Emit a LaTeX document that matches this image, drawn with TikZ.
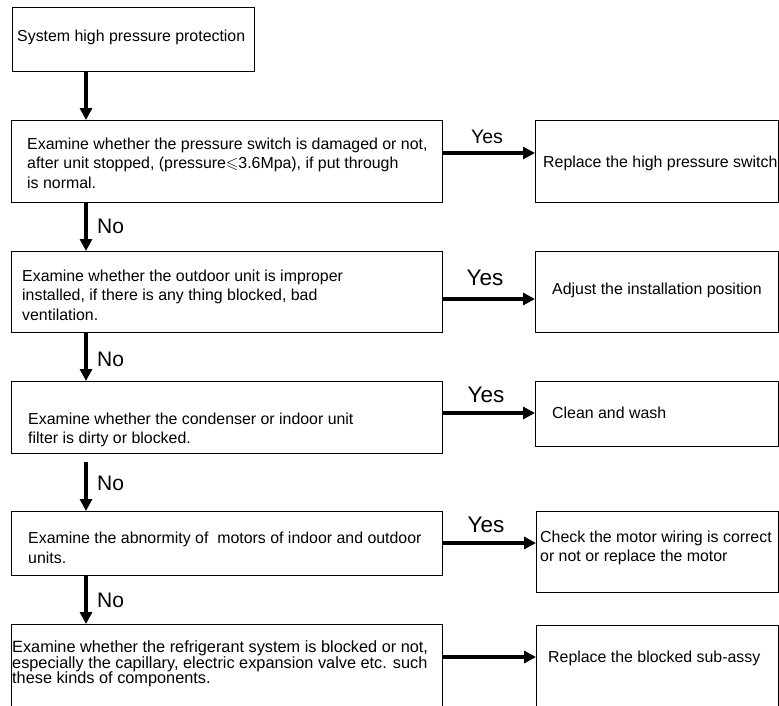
\documentclass[tikz,border=0pt]{standalone}
\usepackage{fontspec}
\setmainfont{Liberation Sans}
\usepackage{amssymb}
\usetikzlibrary{arrows.meta}
\begin{document}
\begin{tikzpicture}[x=1pt,y=-1pt,
  box/.style={draw, line width=1.1pt, inner sep=0pt, anchor=north west},
  txt/.style={font=\fontsize{15.9}{19.5}\selectfont, align=left, inner sep=0pt, anchor=west},
  lbl/.style={font=\fontsize{22.5}{25}\selectfont, inner sep=0pt},
  nolbl/.style={font=\fontsize{21}{24}\selectfont, inner sep=0pt, anchor=west},
  arr/.style={line width=3.2pt, -{Triangle[length=12pt,width=12pt]}}
]
\useasboundingbox (0,0) rectangle (779,705);
\clip (0,0) rectangle (779,705);
% left column boxes
\node[box, minimum width=242pt, minimum height=64pt] (A) at (12,7) {};
\node[box, minimum width=431pt, minimum height=82pt] (B) at (11,120) {};
\node[box, minimum width=431pt, minimum height=81pt] (C) at (11,251) {};
\node[box, minimum width=431pt, minimum height=72pt] (D) at (11,381) {};
\node[box, minimum width=431pt, minimum height=64pt] (E) at (11,511) {};
\node[box, minimum width=431pt, minimum height=110pt] (F) at (11,624) {};
% right column boxes
\node[box, minimum width=243pt, minimum height=82pt] (R1) at (535,120) {};
\node[box, minimum width=243pt, minimum height=81pt] (R2) at (535,251) {};
\node[box, minimum width=243pt, minimum height=65pt] (R3) at (535,381) {};
\node[box, minimum width=242pt, minimum height=81pt] (R4) at (536,511) {};
\node[box, minimum width=242pt, minimum height=110pt] (R5) at (536,625) {};
% texts
\node[txt] (tA) at (17,37) {System high pressure protection};
\node[txt] (tB) at (27,163) {Examine whether the pressure switch is damaged or not,\\after unit stopped, (pressure$\leqslant$3.6Mpa), if put through\\is normal.};
\node[txt] (tC) at (22,295) {Examine whether the outdoor unit is improper\\installed, if there is any thing blocked, bad\\ventilation.};
\node[txt] (tD) at (28,430) {Examine whether the condenser or indoor unit\\filter is dirty or blocked.};
\node[txt] (tE) at (28,548) {Examine the abnormity of\ \ motors of indoor and outdoor\\units.};
\node[txt, font=\fontsize{16.3}{15.5}\selectfont] (tF) at (12,664) {Examine whether the refrigerant system is blocked or not,\\especially the capillary, electric expansion valve etc. such\\these kinds of components.};
\node[txt] (tR1) at (543,163) {Replace the high pressure switch};
\node[txt] (tR2) at (552,290) {Adjust the installation position};
\node[txt] (tR3) at (552,413) {Clean and wash};
\node[txt] (tR4) at (540,548) {Check the motor wiring is correct\\or not or replace the motor};
\node[txt] (tR5) at (548,658) {Replace the blocked sub-assy};
% vertical arrows
\coordinate (ax) at (86,0);
\draw[arr] (A.south -| ax) -- (B.north -| ax);
\draw[arr] (B.south -| ax) -- (C.north -| ax);
\draw[arr] (C.south -| ax) -- (D.north -| ax);
\draw[arr, shorten <=8pt] (D.south -| ax) -- (E.north -| ax);
\draw[arr] (E.south -| ax) -- (F.north -| ax);
% horizontal arrows
\coordinate (y1) at (0,153);
\coordinate (y2) at (0,299);
\coordinate (y3) at (0,413);
\coordinate (y4) at (0,543);
\coordinate (y5) at (0,657);
\draw[arr] (B.east |- y1) -- (R1.west |- y1);
\draw[arr] (C.east |- y2) -- (R2.west |- y2);
\draw[arr] (D.east |- y3) -- (R3.west |- y3);
\draw[arr] (E.east |- y4) -- (R4.west |- y4);
\draw[arr] (F.east |- y5) -- (R5.west |- y5);
% labels
\node[lbl, font=\fontsize{19.5}{22}\selectfont] (yes1) at (487,137) {Yes};
\node[lbl] (yes2) at (485,278) {Yes};
\node[lbl] (yes3) at (486,395) {Yes};
\node[lbl] (yes4) at (486,525) {Yes};
\node[nolbl] (no1) at (97,226) {No};
\node[nolbl] (no2) at (97,359) {No};
\node[nolbl] (no3) at (97,483) {No};
\node[nolbl] (no4) at (97,600) {No};
\end{tikzpicture}
\end{document}
